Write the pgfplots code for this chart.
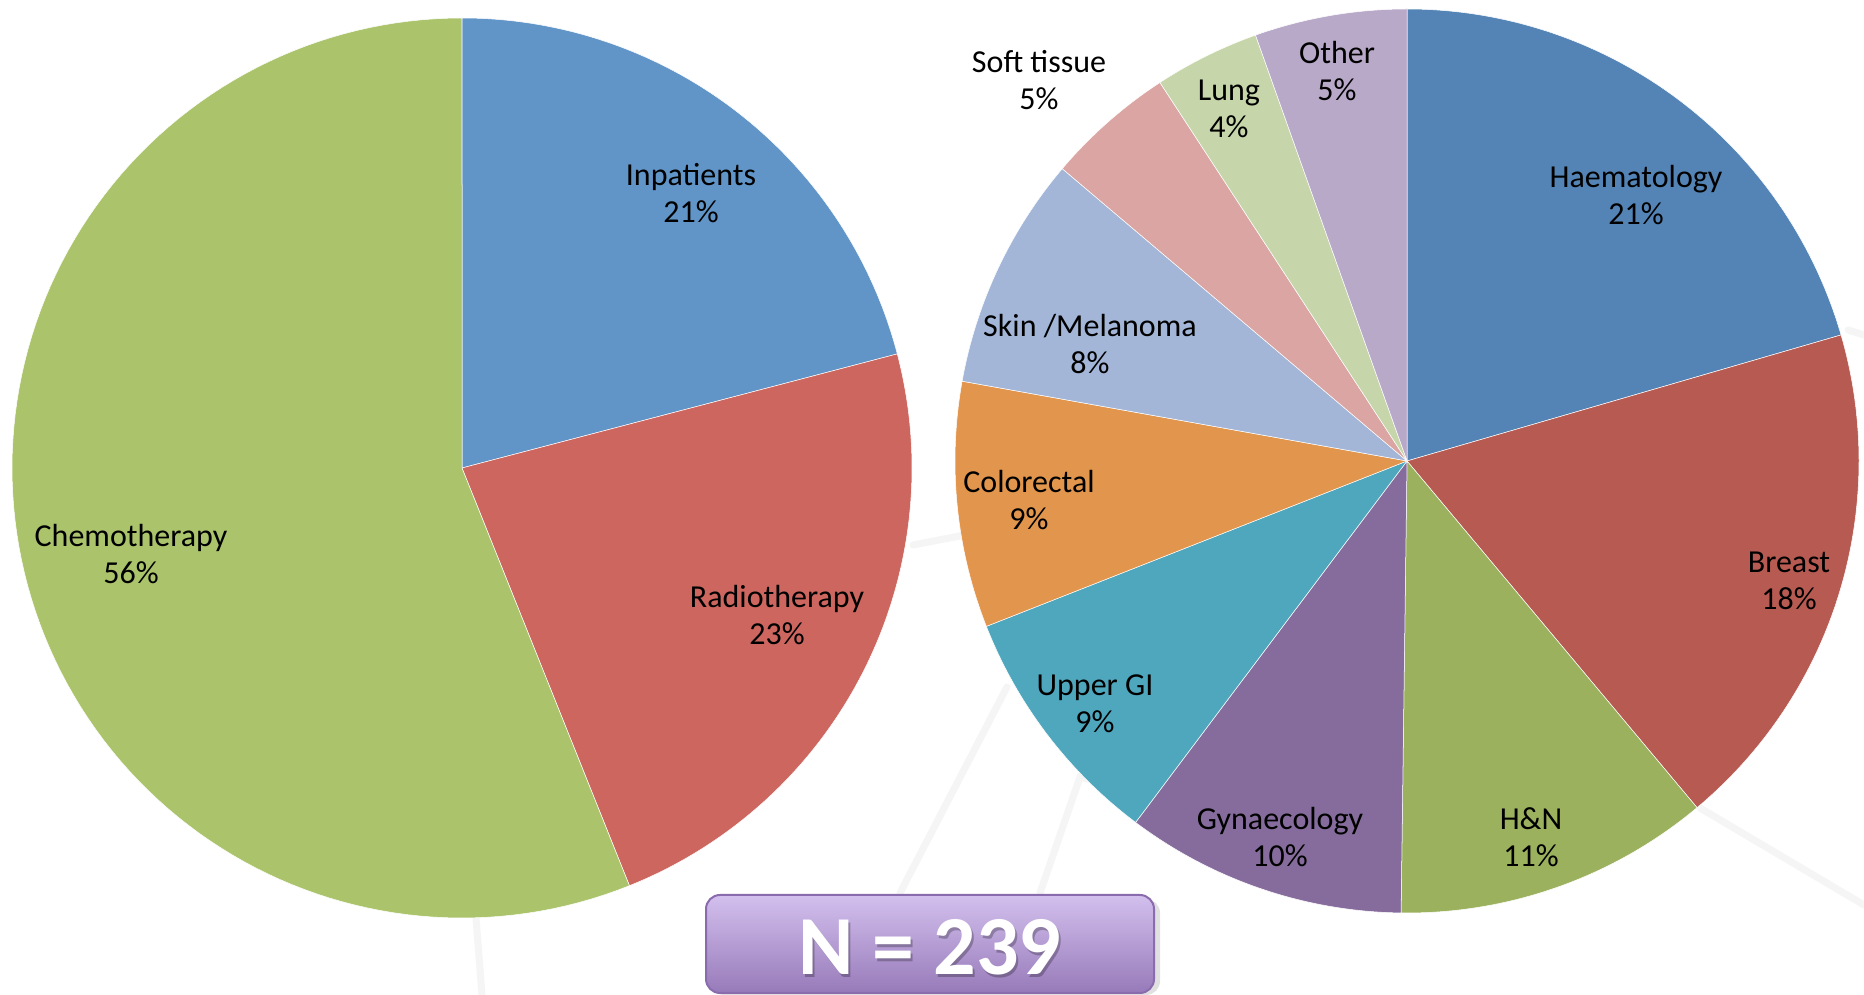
\documentclass[border=0pt]{standalone}
\usepackage{pgfplots}
\pgfplotsset{compat=1.18}
\usepackage{fontspec}
\setmainfont{Carlito}

% colours
\definecolor{cInp}{HTML}{6195C8}
\definecolor{cRad}{HTML}{CD665F}
\definecolor{cChe}{HTML}{ABC46C}
\definecolor{cHae}{HTML}{5384B5}
\definecolor{cBre}{HTML}{B75A52}
\definecolor{cHN}{HTML}{9CB15E}
\definecolor{cGyn}{HTML}{856C9C}
\definecolor{cUGI}{HTML}{4FA7BE}
\definecolor{cCol}{HTML}{E2954C}
\definecolor{cSki}{HTML}{A3B6D8}
\definecolor{cSof}{HTML}{DAA5A2}
\definecolor{cLun}{HTML}{C6D6AA}
\definecolor{cOth}{HTML}{B9A9C9}
\definecolor{boxtop}{HTML}{D3C0EE}
\definecolor{boxbot}{HTML}{977AB9}
\definecolor{boxline}{HTML}{8A6CAE}

% counts (N = 239)
\pgfmathsetmacro\unit{360/239}
% left pie: Inpatients 50, Radiotherapy 55, Chemotherapy 134
\pgfmathsetmacro\angLa{90}
\pgfmathsetmacro\angLb{\angLa-50*\unit}
\pgfmathsetmacro\angLc{\angLb-55*\unit}
\pgfmathsetmacro\angLd{\angLc-134*\unit}
% right pie: Haematology 49, Breast 44, H&N 27, Gynaecology 24, Upper GI 21,
% Colorectal 21, Skin/Melanoma 20, Soft tissue 11, Lung 9, Other 13
\pgfmathsetmacro\angRa{90}
\pgfmathsetmacro\angRb{\angRa-49*\unit}
\pgfmathsetmacro\angRc{\angRb-44*\unit}
\pgfmathsetmacro\angRd{\angRc-27*\unit}
\pgfmathsetmacro\angRe{\angRd-24*\unit}
\pgfmathsetmacro\angRf{\angRe-21*\unit}
\pgfmathsetmacro\angRg{\angRf-21*\unit}
\pgfmathsetmacro\angRh{\angRg-20*\unit}
\pgfmathsetmacro\angRi{\angRh-11*\unit}
\pgfmathsetmacro\angRj{\angRi-9*\unit}
\pgfmathsetmacro\angRk{\angRj-13*\unit}

\begin{document}%
\begin{tikzpicture}
\begin{scope}[x=0.5pt,y=0.5pt]
\path[use as bounding box, fill=white] (0,0) rectangle (1864,995);
% faint background network lines
\begin{scope}[black!4, line width=3.5pt, line cap=round]
\draw (476,77) -- (482,0);
\draw (1700,187) -- (1864,90);
\draw (900,102) -- (1007,308);
\draw (1040,102) -- (1080,218) -- (1130,205);
\draw (913,450) -- (965,460);
\draw (1848,665) -- (1864,660);
\end{scope}
\end{scope}

\pgfplotsset{pie/.style={scale only axis, hide axis, clip=false,
  xmin=-1, xmax=1, ymin=-1, ymax=1, anchor=center},
  slice/.style={draw=white, line width=0.25pt, samples=120, data cs=polar}}

\begin{axis}[pie, at={(231pt,263.5pt)}, width=450pt, height=450pt]
\addplot[slice, fill=cInp, domain=\angLb:\angLa] (x,1) -- (axis cs:0,0) -- cycle;
\addplot[slice, fill=cRad, domain=\angLc:\angLb] (x,1) -- (axis cs:0,0) -- cycle;
\addplot[slice, fill=cChe, domain=\angLd:\angLc] (x,1) -- (axis cs:0,0) -- cycle;
\end{axis}

\begin{axis}[pie, at={(703.5pt,267pt)}, width=452pt, height=452pt]
\addplot[slice, fill=cHae, domain=\angRb:\angRa] (x,1) -- (axis cs:0,0) -- cycle;
\addplot[slice, fill=cBre, domain=\angRc:\angRb] (x,1) -- (axis cs:0,0) -- cycle;
\addplot[slice, fill=cHN,  domain=\angRd:\angRc] (x,1) -- (axis cs:0,0) -- cycle;
\addplot[slice, fill=cGyn, domain=\angRe:\angRd] (x,1) -- (axis cs:0,0) -- cycle;
\addplot[slice, fill=cUGI, domain=\angRf:\angRe] (x,1) -- (axis cs:0,0) -- cycle;
\addplot[slice, fill=cCol, domain=\angRg:\angRf] (x,1) -- (axis cs:0,0) -- cycle;
\addplot[slice, fill=cSki, domain=\angRh:\angRg] (x,1) -- (axis cs:0,0) -- cycle;
\addplot[slice, fill=cSof, domain=\angRi:\angRh] (x,1) -- (axis cs:0,0) -- cycle;
\addplot[slice, fill=cLun, domain=\angRj:\angRi] (x,1) -- (axis cs:0,0) -- cycle;
\addplot[slice, fill=cOth, domain=\angRk:\angRj] (x,1) -- (axis cs:0,0) -- cycle;
\end{axis}

\begin{scope}[x=0.5pt,y=0.5pt]
% slice labels
\tikzset{lab/.style={align=center, font=\fontsize{16pt}{18.5pt}\selectfont, text=black, inner sep=0pt}}
\node[lab] at (691,802) {Inpatients\\21\%};
\node[lab] at (777,380) {Radiotherapy\\23\%};
\node[lab] at (131,441) {Chemotherapy\\56\%};
\node[lab] at (1636,800) {Haematology\\21\%};
\node[lab] at (1789,414) {Breast\\18\%};
\node[lab] at (1531,158) {H\&N\\11\%};
\node[lab] at (1280,158) {Gynaecology\\10\%};
\node[lab] at (1095,291) {Upper GI\\9\%};
\node[lab] at (1029,495) {Colorectal\\9\%};
\node[lab] at (1090,651) {Skin /Melanoma\\8\%};
\node[lab] at (1039,915) {Soft tissue\\5\%};
\node[lab] at (1229,886) {Lung\\4\%};
\node[lab] at (1337,924) {Other\\5\%};

% N = 239 box
\fill[black, opacity=0.12, rounded corners=7pt] (710,0) rectangle (1160,96);
\shade[top color=boxtop, bottom color=boxbot, rounded corners=7pt] (706,2) rectangle (1154,100);
\draw[boxline, line width=1pt, rounded corners=7pt] (706,2) rectangle (1154,100);
\node[text=black, opacity=0.25, font=\fontsize{42pt}{42pt}\selectfont\bfseries, inner sep=0pt] at (932,45) {N = 239};
\node[text=white, font=\fontsize{42pt}{42pt}\selectfont\bfseries, inner sep=0pt] at (930,48) {N = 239};
\end{scope}
\end{tikzpicture}%
\end{document}
